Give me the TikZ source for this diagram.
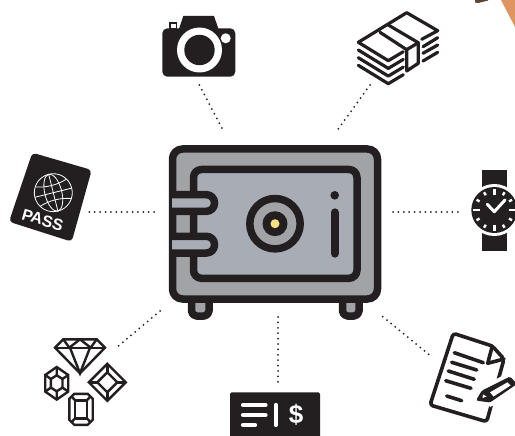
\documentclass[tikz,border=0pt]{standalone}
\usepackage{fontspec}
\setmainfont{Liberation Sans}
\usetikzlibrary{positioning}
\definecolor{safeblack}{HTML}{231F20}
\definecolor{safegray}{HTML}{A2A3A6}
\definecolor{doorgray}{HTML}{A8ADB5}
\definecolor{dialyellow}{HTML}{F7E27F}
\definecolor{cornerorange}{HTML}{DE9560}
\definecolor{cornerbrown}{HTML}{5E4435}
\tikzset{
	safeline/.style={draw=safeblack, line width=7.5pt, line join=round},
	iconline/.style={draw=safeblack, line width=3.2pt, line join=round, line cap=round},
	noteline/.style={draw=safeblack, line width=3.6pt, line join=round, line cap=round},
	gemline/.style={draw=safeblack, line width=2.4pt, line join=miter},
	whiteline/.style={draw=white, line width=4.2pt, line cap=round},
	globeline/.style={draw=white, line width=0.8pt},
	dotline/.style={draw=safeblack, line width=2pt, line cap=round, dash pattern=on 0pt off 5.4pt},
}
\begin{document}
\begin{tikzpicture}[x=1pt, y=-1pt]
	\clip (0,0) rectangle (515,436);
	\fill[white] (0,0) rectangle (515,436);
	% corner
	\fill[cornerorange] (501,0) -- (515,27) -- (515,0) -- cycle;
	\fill[cornerbrown] (475,0) -- (488,0) -- (488,0.6) -- (478,3) -- (475,2.5) -- cycle;
	% connector ends
	\coordinate (camerato) at (199.3,85);
	\coordinate (safetop) at (223.5,131);
	\coordinate (moneyto) at (370,85);
	\coordinate (safetopright) at (337.5,130);
	\coordinate (passto) at (89.3,212);
	\coordinate (safeleft) at (156,212);
	\coordinate (watchto) at (458,212);
	\coordinate (saferight) at (393,212);
	\coordinate (gemsto) at (116,348);
	\coordinate (safelowleft) at (160,311);
	\coordinate (checkto) at (278,383);
	\coordinate (safebottom) at (278,317);
	\coordinate (noteto) at (432.5,357.5);
	\coordinate (safelowright) at (382.7,316.7);
	\draw[dotline] (camerato) -- (safetop);
	\draw[dotline] (moneyto) -- (safetopright);
	\draw[dotline] (passto) -- (safeleft);
	\draw[dotline] (saferight) -- (watchto);
	\draw[dotline] (safelowleft) -- (gemsto);
	\draw[dotline] (safebottom) -- (checkto);
	\draw[dotline] (safelowright) -- (noteto);
	% safe
	\draw[safeline, fill=safegray, rounded corners=5pt] (191.5,296) -- (191.5,316) -- (209,316) -- (209,296) -- cycle;
	\draw[safeline, fill=safegray, rounded corners=5pt] (342.5,296) -- (342.5,316) -- (359,316) -- (359,296) -- cycle;
	\draw[safeline, fill=safegray, rounded corners=10pt] (172.5,149) rectangle (377.5,299);
	\draw[safeline, fill=doorgray, rounded corners=8pt] (193.5,169.5) rectangle (357,278.3);
	\draw[safeline, fill=doorgray, rounded corners=8pt] (172,194.7) -- (214.5,194.7) -- (214.5,211.3) -- (172,211.3);
	\draw[safeline, fill=doorgray, rounded corners=8pt] (172,236.3) -- (214.5,236.3) -- (214.5,253) -- (172,253);
	\draw[safeline, fill=safegray] (275,223.7) circle (25.2);
	\fill[safeblack] (275,223.7) circle (12.5);
	\fill[dialyellow] (275,223.7) circle (4.5);
	\fill[safeblack] (334.7,195.3) circle (4.3);
	\draw[safeline, line width=8.3pt, line cap=round] (334.7,212.5) -- (334.7,253.5);
	\node[inner sep=0pt, minimum size=0pt] (safe) at (275,224) {};
	% camera
	\fill[safeblack, rounded corners=5pt] (162.3,28.3) rectangle (235.3,76.7);
	\fill[safeblack] (179,29) -- (183.3,16) -- (214,16) -- (218.5,29) -- cycle;
	\fill[safeblack] (169.3,22.3) rectangle (177.3,29);
	\fill[white] (170.8,24) rectangle (175.8,28.3);
	\fill[white] (199.5,50) circle (22.5);
	\fill[safeblack] (199.5,50) circle (15.2);
	\fill[white] (225.7,38.3) circle (5);
	% money
	\draw[iconline] (358.3,42.3) -- (406.7,12.7) -- (437.7,30.7) -- (421.7,39.3);
	\draw[iconline] (358.3,42.3) -- (388.3,60.7) -- (403.3,51.7);
	\draw[iconline] (380,32.3) -- (406.7,49.7) -- (406.7,71) -- (418.3,63.3) -- (418.3,42.7) -- (388.3,25);
	\draw[iconline] (406.7,49.7) -- (418.3,42.7);
	\foreach \dy in {7.7,15.4,23} {
		\draw[iconline] (358.3,42.3+\dy) -- (388.3,60.7+\dy) -- (403.3,51.7+\dy);
	}
	\draw[iconline] (423,46.7) -- (437.7,37.7);
	\draw[iconline] (423,53.3) -- (437.7,45);
	\draw[iconline] (423,61) -- (437.7,52.3);
	% passport
	\fill[safeblack, rounded corners=4pt] (32.3,152.7) -- (91.7,170) -- (71.7,241.7) -- (9,221.7) -- cycle;
	\begin{scope}[shift={(53.3,192.7)}, rotate=14]
		\draw[globeline] (0,0) circle (19);
		\draw[globeline] (0,0) ellipse (8.5 and 19);
		\draw[globeline] (-19,0) -- (19,0);
		\draw[globeline] (0,-19) -- (0,19);
		\draw[globeline] (-16,-10) .. controls (-6,-6.5) and (6,-6.5) .. (16,-10);
		\draw[globeline] (-16,10) .. controls (-6,6.5) and (6,6.5) .. (16,10);
	\end{scope}
	\node[text=white, font=\bfseries\fontsize{16}{16}\selectfont, rotate=-16.5, inner sep=0pt] (pass) at (42.7,220) {PASS};
	% watch
	\fill[safeblack] (481.7,170) rectangle (507.3,251);
	\fill[white] (494.3,210) circle (26);
	\fill[safeblack] (494.3,210) circle (23);
	\foreach \a in {30,60,120,150,210,240,300,330} {
		\draw[draw=white, line width=2.4pt] (494.3,210) ++(\a:17) -- ++(\a:3.5);
	}
	\foreach \a in {0,90,180,270} {
		\draw[draw=white, line width=2.4pt] (494.3,210) ++(\a:14.5) -- ++(\a:6.5);
	}
	\draw[draw=white, line width=3pt, line cap=round, line join=round] (487.3,204.3) -- (494.3,211.7) -- (505,200);
	% gems
	\draw[gemline] (63.3,339.3) -- (96.7,339.3) -- (105,347.7) -- (80,373.3) -- (55,347.7) -- cycle;
	\draw[gemline] (55,347.7) -- (105,347.7);
	\draw[gemline] (63.3,339.3) -- (69.3,347.7) -- (80,339.3) -- (90.7,347.7) -- (96.7,339.3);
	\draw[gemline] (70,347.7) -- (80,373.3) -- (90,347.7);
	\draw[gemline] (56.7,367) -- (68.2,375) -- (68.2,391.6) -- (56.7,399.6) -- (45.2,391.6) -- (45.2,375) -- cycle;
	\draw[gemline] (56.7,375.3) -- (62.5,379) -- (62.5,387.6) -- (56.7,391.3) -- (50.9,387.6) -- (50.9,379) -- cycle;
	\draw[gemline] (56.7,367) -- (56.7,375.3) (68.2,375) -- (62.5,379) (68.2,391.6) -- (62.5,387.6) (56.7,399.6) -- (56.7,391.3) (45.2,391.6) -- (50.9,387.6) (45.2,375) -- (50.9,379);
	\draw[gemline] (107.3,363.8) -- (125.8,382.3) -- (107.3,400.8) -- (88.8,382.3) -- cycle;
	\draw[gemline] (107.3,372.3) -- (117.3,382.3) -- (107.3,392.3) -- (97.3,382.3) -- cycle;
	\draw[gemline] (107.3,363.8) -- (107.3,372.3) (125.8,382.3) -- (117.3,382.3) (107.3,400.8) -- (107.3,392.3) (88.8,382.3) -- (97.3,382.3);
	\draw[gemline] (74.3,393.8) -- (87.7,393.8) -- (92.7,398.8) -- (92.7,419.8) -- (87.7,424.8) -- (74.3,424.8) -- (69.3,419.8) -- (69.3,398.8) -- cycle;
	\draw[gemline] (75.2,400.3) rectangle (86.8,418.3);
	\draw[gemline] (71,396) -- (75.2,400.3) (91,396) -- (86.8,400.3) (91,422.6) -- (86.8,418.3) (71,422.6) -- (75.2,418.3);
	% check
	\fill[safeblack, rounded corners=1.5pt] (230,392.3) rectangle (320,440);
	\draw[whiteline] (243,405) -- (265.5,405);
	\draw[whiteline] (243,415) -- (265.5,415);
	\draw[whiteline] (243,425) -- (255,425);
	\draw[whiteline] (275.7,405) -- (275.7,425);
	\node[text=white, font=\bfseries\fontsize{26}{26}\selectfont, inner sep=0pt] (dollar) at (296,415) {\$};
	% note
	\draw[noteline, fill=white, rounded corners=3pt] (453.3,333.3) -- (492.3,346) -- (504,359) -- (486.7,421.7) -- (430,405) -- cycle;
	\draw[noteline] (492.3,346) -- (487.7,363.3) -- (504,359);
	\draw[noteline] (454.3,352.7) -- (483.3,362.7);
	\draw[noteline] (451.7,362.3) -- (476.7,370);
	\draw[noteline] (448.3,371) -- (474.3,379.3);
	\draw[noteline] (445.7,380.7) -- (471,388.3);
	\draw[noteline] (446.7,396) -- (461.7,400.7);
	\fill[white] (491,382) -- (502,376) -- (520,392) -- (490,407) -- (483,395) -- cycle;
	\fill[safeblack, rounded corners=1.5pt] (476,400.5) -- (481.7,390.7) -- (510,376.5) -- (517,384) -- (490,402.5) -- cycle;
	\fill[white] (490,392.3) -- (507.5,382.3) -- (510.5,385.5) -- (493.5,396.5) -- cycle;
	\fill[white] (483,394.5) -- (486.5,396.5) -- (482.5,398) -- cycle;
\end{tikzpicture}
\end{document}
